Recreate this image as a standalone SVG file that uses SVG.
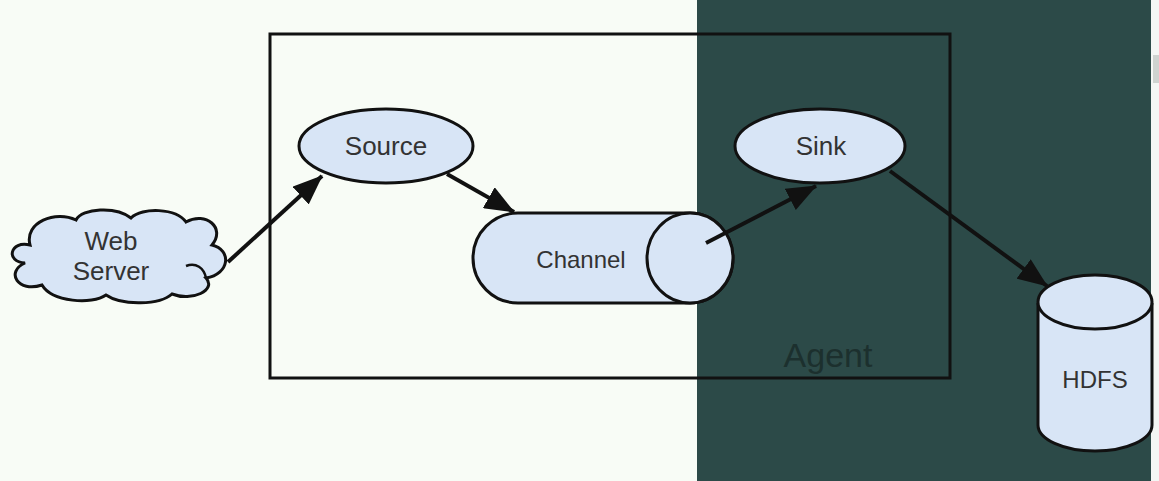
<svg xmlns="http://www.w3.org/2000/svg" width="1159" height="481" viewBox="0 0 1159 481">
<style>
.shape{fill:#d8e5f6;stroke:#111;stroke-width:3}
.lbl{font-family:"Liberation Sans",Arial,sans-serif;fill:#333;text-anchor:middle;dominant-baseline:central}
.conn{stroke:#111;stroke-width:4;fill:none;marker-end:url(#ah)}
</style>
<defs>
<marker id="ah" viewBox="0 0 30 24" refX="29" refY="12" markerWidth="30" markerHeight="24" markerUnits="userSpaceOnUse" orient="auto">
<path d="M0,0 L30,12 L0,24 Z" fill="#111"/>
</marker>
</defs>
<rect x="0" y="0" width="1159" height="481" fill="#f8fcf6"/>
<rect x="697" y="0" width="454" height="481" fill="#2c4a48"/>
<rect x="1151" y="0" width="8" height="481" fill="#f4f6f4"/>
<rect x="1153" y="55" width="6" height="28" fill="#cfd3d0"/>
<g id="agent">
<rect x="270" y="34" width="680" height="344" fill="none" stroke="#111" stroke-width="3"/>
<text class="lbl" x="828" y="355" style="font-size:34px;fill:#1c302e">Agent</text>
</g>
<g id="webserver">
<path class="shape" d="M30,245 C10,240 5,262 25,263 C5,272 18,293 42,285 C52,302 92,305 106,295 C122,306 160,305 172,294 C192,302 217,290 206,278 C230,274 232,250 212,245 C226,228 206,211 186,222 C176,208 142,207 131,218 C116,206 82,208 76,220 C56,210 24,222 30,245 Z"/>
<path d="M186,266 C196,262 204,268 206,278" fill="none" stroke="#111" stroke-width="2.5"/>
<text class="lbl" x="111" y="241" style="font-size:26px">Web</text>
<text class="lbl" x="111" y="271" style="font-size:26px">Server</text>
</g>
<g id="source">
<ellipse class="shape" cx="386" cy="146" rx="87" ry="37"/>
<text class="lbl" x="386" y="146" style="font-size:26px">Source</text>
</g>
<g id="channel">
<path class="shape" d="M518,213 L690,213 A43,45 0 0 1 690,303 L518,303 A45,45 0 0 1 518,213 Z"/>
<ellipse class="shape" cx="690" cy="258" rx="43" ry="45"/>
<text class="lbl" x="581" y="259" style="font-size:24px">Channel</text>
</g>
<g id="sink">
<ellipse class="shape" cx="820" cy="146" rx="85" ry="37"/>
<text class="lbl" x="821" y="146" style="font-size:26px">Sink</text>
</g>
<g id="hdfs">
<path class="shape" d="M1038,303 L1038,425 A57,26 0 0 0 1152,425 L1152,303"/>
<ellipse class="shape" cx="1095" cy="302" rx="57" ry="27"/>
<text class="lbl" x="1095" y="379" style="font-size:24px">HDFS</text>
</g>
<g id="connectors">
<line class="conn" x1="228" y1="262" x2="322" y2="176"/>
<line class="conn" x1="447" y1="174" x2="514" y2="212"/>
<line class="conn" x1="706" y1="243" x2="816" y2="186"/>
<line class="conn" x1="890" y1="171" x2="1047" y2="286"/>
</g>
</svg>
